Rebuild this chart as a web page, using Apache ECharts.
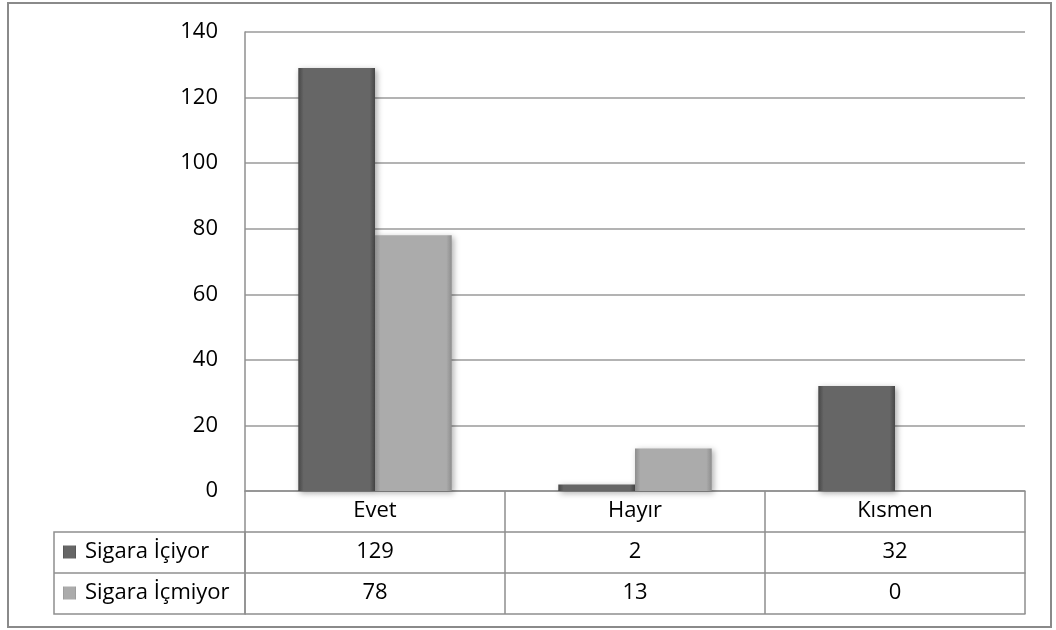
<!DOCTYPE html>
<html>
<head>
<meta charset="utf-8">
<script src="https://cdn.jsdelivr.net/npm/echarts@6/dist/echarts.min.js"></script>
<style>
  html, body { margin: 0; padding: 0; background: #fff; }
  #chart { width: 1056px; height: 630px; }
</style>
</head>
<body>
<div id="chart"></div>
<script>
// chart data
var categories = ['Evet', 'Hayır', 'Kısmen'];
var seriesNames = ['Sigara İçiyor', 'Sigara İçmiyor'];
var smokers = [129, 2, 32];
var nonSmokers = [78, 13, 0];
var yTicks = { min: 0, max: 140, interval: 20 };

var FONT = '"Open Sans", "Noto Sans", sans-serif';
var FS = 22;
var LINE = '#8f8f8f';
var ROW = 41;

function bevel(edge, mid) {
    return {
        type: 'linear', x: 0, y: 0, x2: 1, y2: 0,
        colorStops: [
            { offset: 0, color: edge },
            { offset: 0.07, color: mid },
            { offset: 0.93, color: mid },
            { offset: 1, color: edge }
        ]
    };
}

var darkFill = bevel('#474747', '#666666');
var lightFill = bevel('#8d8d8d', '#ababab');

function tableAxis(offset, labels, showLabel, showTick) {
    return {
        type: 'category',
        gridIndex: 0,
        position: 'bottom',
        offset: offset,
        data: labels,
        axisLine: { show: true, lineStyle: { color: LINE, width: 1.5 } },
        axisTick: {
            show: showTick, alignWithLabel: false, interval: 0,
            length: ROW, lineStyle: { color: LINE, width: 1.5 }
        },
        axisLabel: {
            show: showLabel, interval: 0, margin: 9,
            color: '#000', fontSize: FS, fontFamily: FONT
        },
        splitLine: { show: false }
    };
}

var myChart = echarts.init(document.getElementById('chart'));
var option = {
    backgroundColor: '#fff',
    animation: false,
    grid: { left: 245, right: 31, top: 32, bottom: 139, containLabel: false },
    legend: {
        orient: 'vertical',
        left: 63,
        top: 541,
        padding: 0,
        itemWidth: 13,
        itemHeight: 13,
        itemGap: 19,
        icon: 'rect',
        selectedMode: false,
        data: seriesNames,
        textStyle: {
            color: '#000', fontSize: FS, fontFamily: FONT,
            lineHeight: 22, padding: [0, 0, 0, 4]
        }
    },
    xAxis: [
        tableAxis(0, categories, true, true),
        tableAxis(ROW, smokers.map(String), true, true),
        tableAxis(ROW * 2, nonSmokers.map(String), true, true),
        tableAxis(ROW * 3, categories, false, false)
    ],
    yAxis: {
        type: 'value',
        min: yTicks.min,
        max: yTicks.max,
        interval: yTicks.interval,
        axisLine: { show: true, lineStyle: { color: LINE, width: 1.5 } },
        axisTick: { show: false },
        axisLabel: { color: '#000', fontSize: FS, fontFamily: FONT, margin: 27 },
        splitLine: { show: true, lineStyle: { color: '#9a9a9a', width: 1.5 } }
    },
    series: [
        {
            name: seriesNames[0],
            type: 'bar',
            xAxisIndex: 0,
            data: smokers,
            barGap: '0%',
            barCategoryGap: '41%',
            itemStyle: {
                color: darkFill,
                shadowBlur: 6, shadowColor: 'rgba(0,0,0,0.35)', shadowOffsetX: 2, shadowOffsetY: 2
            }
        },
        {
            name: seriesNames[1],
            type: 'bar',
            xAxisIndex: 0,
            data: nonSmokers,
            barGap: '0%',
            barCategoryGap: '41%',
            itemStyle: {
                color: lightFill,
                shadowBlur: 6, shadowColor: 'rgba(0,0,0,0.3)', shadowOffsetX: 2, shadowOffsetY: 2
            }
        }
    ],
    graphic: [
        {
            type: 'rect', z: 0, silent: true,
            shape: { x: 8, y: 3, width: 1043, height: 624 },
            style: { fill: 'none', stroke: '#8a8a8a', lineWidth: 2 }
        },
        {
            type: 'rect', silent: true,
            shape: { x: 54, y: 491 + ROW, width: 191, height: ROW * 2 },
            style: { fill: 'none', stroke: LINE, lineWidth: 1.5 }
        },
        {
            type: 'line', silent: true,
            shape: { x1: 54, y1: 491 + ROW * 2, x2: 245, y2: 491 + ROW * 2 },
            style: { stroke: LINE, lineWidth: 1.5 }
        }
    ]
};
myChart.setOption(option);
</script>
</body>
</html>
